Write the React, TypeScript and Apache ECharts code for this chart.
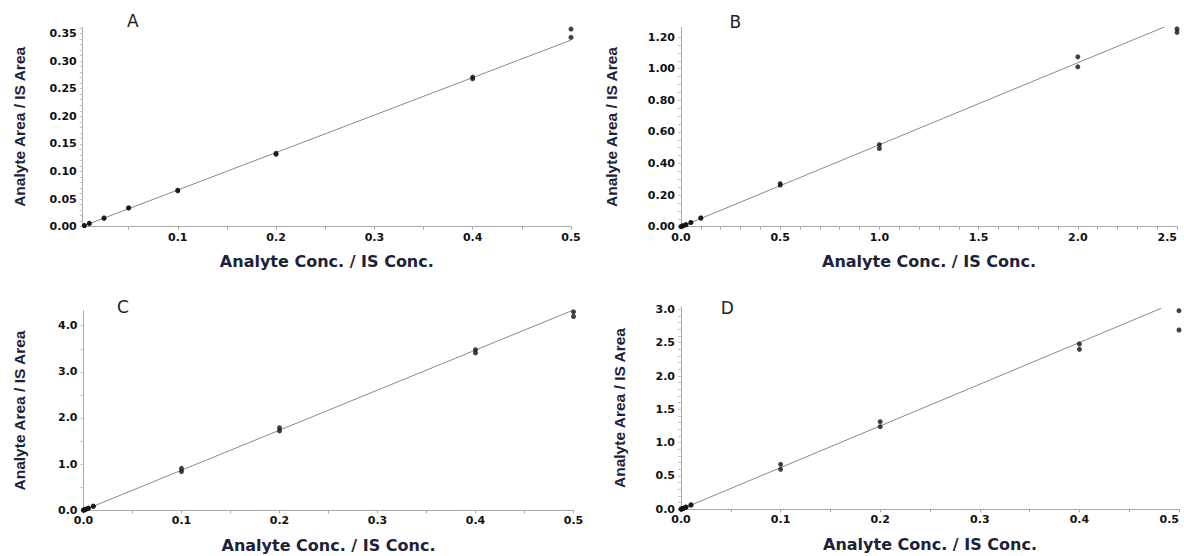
import React, { useEffect, useRef } from "react";
import * as echarts from "echarts";

// ---------- data ----------
const xA = [0.005, 0.01, 0.025, 0.05, 0.1, 0.2, 0.4, 0.5];
const yA1 = [0.002, 0.006, 0.016, 0.034, 0.066, 0.133, 0.271, 0.358];
const yA2 = [0.002, 0.006, 0.015, 0.034, 0.065, 0.131, 0.268, 0.343];
const fitA = [[0.005, 0.002], [0.5, 0.338]];

const xB = [0, 0.01, 0.025, 0.05, 0.1, 0.5, 1.0, 2.0, 2.5];
const yB1 = [0.001, 0.006, 0.013, 0.027, 0.056, 0.273, 0.519, 1.075, 1.252];
const yB2 = [0.001, 0.005, 0.012, 0.026, 0.054, 0.263, 0.495, 1.012, 1.23];
const fitB = [[0, 0], [2.44, 1.266]];

const xC = [0, 0.001, 0.0025, 0.005, 0.01, 0.1, 0.2, 0.4, 0.5];
const yC1 = [0.004, 0.012, 0.025, 0.048, 0.092, 0.91, 1.79, 3.48, 4.3];
const yC2 = [0.003, 0.01, 0.022, 0.043, 0.085, 0.84, 1.72, 3.41, 4.2];
const fitC = [[0, 0], [0.5, 4.34]];

const xD = [0, 0.001, 0.0025, 0.005, 0.01, 0.1, 0.2, 0.4, 0.5];
const yD1 = [0.003, 0.008, 0.018, 0.034, 0.068, 0.675, 1.315, 2.48, 2.98];
const yD2 = [0.002, 0.006, 0.015, 0.03, 0.062, 0.6, 1.24, 2.4, 2.69];
const fitD = [[0, 0], [0.482, 3.015]];

// tick labels
const xLabelsA = [0.1, 0.2, 0.3, 0.4, 0.5];
const yLabelsA = [0, 0.05, 0.1, 0.15, 0.2, 0.25, 0.3, 0.35];
const xLabelsB = [0, 0.5, 1.0, 1.5, 2.0, 2.5];
const yLabelsB = [0, 0.2, 0.4, 0.6, 0.8, 1.0, 1.2];
const xLabelsC = [0, 0.1, 0.2, 0.3, 0.4, 0.5];
const yLabelsC = [0, 1, 2, 3, 4];
const xLabelsD = [0, 0.1, 0.2, 0.3, 0.4, 0.5];
const yLabelsD = [0, 0.5, 1.0, 1.5, 2.0, 2.5, 3.0];

const panelLetters = ["A", "B", "C", "D"];
const xTitle = "Analyte Conc. / IS Conc.";
const yTitle = "Analyte Area / IS Area";

// ---------- helpers ----------
function steps(from: number, to: number, step: number) {
  const out: number[] = [];
  const n = Math.round((to - from) / step);
  for (let i = 0; i <= n; i++) out.push(+(from + i * step).toFixed(6));
  return out;
}

const FONT = '"DejaVu Sans", "Liberation Sans", sans-serif';
const FONT_Y = '"Liberation Sans", Arial, sans-serif';
const AXIS_COLOR = "#a8a8a8";

interface PanelCfg {
  grid: { left: number; right: number; top: number; bottom: number };
  xMin: number; xMax: number; yMin: number; yMax: number;
  xLabels: number[]; xTicks: number[]; xDec: number;
  yLabels: number[]; yTicks: number[]; yDec: number;
  xNameGap: number; yNameGap: number; alignMax: boolean;
  xs: number[]; y1: number[]; y2: number[]; fit: number[][];
}

const panels: PanelCfg[] = [
  {
    grid: { left: 82.7, right: 613, top: 27, bottom: 329.3 },
    xMin: 0.0033, xMax: 0.5, yMin: 0, yMax: 0.3618,
    xLabels: xLabelsA, xTicks: steps(0.05, 0.5, 0.05), xDec: 1,
    yLabels: yLabelsA, yTicks: steps(0, 0.36, 0.01), yDec: 2,
    xNameGap: 27, yNameGap: 55, alignMax: false,
    xs: xA, y1: yA1, y2: yA2, fit: fitA,
  },
  {
    grid: { left: 681, right: 7, top: 27.3, bottom: 329.3 },
    xMin: 0, xMax: 2.5, yMin: 0, yMax: 1.262,
    xLabels: xLabelsB, xTicks: steps(0, 2.5, 0.1), xDec: 1,
    yLabels: yLabelsB, yTicks: steps(0, 1.2, 0.05), yDec: 2,
    xNameGap: 27, yNameGap: 62, alignMax: true,
    xs: xB, y1: yB1, y2: yB2, fit: fitB,
  },
  {
    grid: { left: 83.5, right: 610.5, top: 310.7, bottom: 45.7 },
    xMin: 0, xMax: 0.5, yMin: 0, yMax: 4.325,
    xLabels: xLabelsC, xTicks: steps(0, 0.5, 0.05), xDec: 1,
    yLabels: yLabelsC, yTicks: steps(0, 4, 0.5), yDec: 1,
    xNameGap: 27, yNameGap: 56, alignMax: false,
    xs: xC, y1: yC1, y2: yC2, fit: fitC,
  },
  {
    grid: { left: 681, right: 5, top: 306.7, bottom: 46.7 },
    xMin: 0, xMax: 0.5, yMin: 0, yMax: 3.04,
    xLabels: xLabelsD, xTicks: steps(0, 0.5, 0.05), xDec: 1,
    yLabels: yLabelsD, yTicks: steps(0, 3.0, 0.1), yDec: 1,
    xNameGap: 27, yNameGap: 54, alignMax: true,
    xs: xD, y1: yD1, y2: yD2, fit: fitD,
  },
];

const letterPos = [
  [132.7, 21],
  [735.4, 22],
  [123, 307],
  [727.3, 307.5],
];

function buildOption() {
  const grids: any[] = [];
  const xAxes: any[] = [];
  const yAxes: any[] = [];
  const series: any[] = [];

  panels.forEach((p, i) => {
    grids.push({ ...p.grid, containLabel: false, outerBoundsMode: "none" });
    const tickLabel = {
      fontFamily: FONT,
      fontWeight: "bold",
      fontSize: 11,
      color: "#111",
    };
    xAxes.push({
      type: "value",
      gridIndex: i,
      min: p.xMin,
      max: p.xMax,
      name: xTitle,
      nameLocation: "middle",
      nameGap: p.xNameGap,
      nameTextStyle: { fontFamily: FONT, fontWeight: "bold", fontSize: 16, color: "#1c2238" },
      axisLine: { show: true, onZero: false, lineStyle: { color: AXIS_COLOR, width: 1 } },
      axisTick: { show: true, length: 3, customValues: p.xTicks, lineStyle: { color: AXIS_COLOR } },
      axisLabel: {
        ...tickLabel,
        margin: 5,
        customValues: p.xLabels,
        alignMaxLabel: p.alignMax ? "right" : undefined,
        formatter: (v: number) => v.toFixed(p.xDec),
      },
      splitLine: { show: false },
    });
    yAxes.push({
      type: "value",
      gridIndex: i,
      min: p.yMin,
      max: p.yMax,
      name: yTitle,
      nameLocation: "middle",
      nameGap: p.yNameGap,
      nameRotate: 90,
      nameTextStyle: { fontFamily: FONT_Y, fontWeight: "bold", fontSize: 15.5, color: "#1c2238" },
      axisLine: { show: true, onZero: false, lineStyle: { color: AXIS_COLOR, width: 1 } },
      axisTick: { show: true, length: 3, customValues: p.yTicks, lineStyle: { color: "#c4c4c4" } },
      axisLabel: {
        ...tickLabel,
        margin: 6,
        customValues: p.yLabels,
        formatter: (v: number) => v.toFixed(p.yDec),
      },
      splitLine: { show: false },
    });
    series.push({
      type: "line",
      xAxisIndex: i,
      yAxisIndex: i,
      data: p.fit,
      showSymbol: false,
      symbol: "none",
      lineStyle: { color: "#8a8a8a", width: 1 },
      z: 1,
      silent: true,
    });
    const pts: number[][] = [];
    p.xs.forEach((x, k) => {
      pts.push([x, p.y1[k]]);
      pts.push([x, p.y2[k]]);
    });
    series.push({
      type: "scatter",
      xAxisIndex: i,
      yAxisIndex: i,
      data: pts,
      symbol: "circle",
      symbolSize: 5,
      itemStyle: { color: "#111" },
      z: 3,
    });
  });

  const graphics = panelLetters.map((t, i) => ({
    type: "text",
    x: letterPos[i][0],
    y: letterPos[i][1],
    style: {
      text: t,
      font: `normal 17px ${FONT}`,
      fill: "#222",
      textAlign: "center",
      textVerticalAlign: "middle",
    },
  }));

  return {
    animation: false,
    backgroundColor: "#ffffff",
    grid: grids,
    xAxis: xAxes,
    yAxis: yAxes,
    series,
    graphic: graphics,
  };
}

export default function App() {
  const ref = useRef<HTMLDivElement>(null);
  useEffect(() => {
    document.body.style.margin = "0";
    if (!ref.current) return;
    const chart = echarts.init(ref.current, undefined, { renderer: "svg" });
    chart.setOption(buildOption() as any);
    return () => chart.dispose();
  }, []);
  return <div ref={ref} style={{ width: 1184, height: 556 }} />;
}
